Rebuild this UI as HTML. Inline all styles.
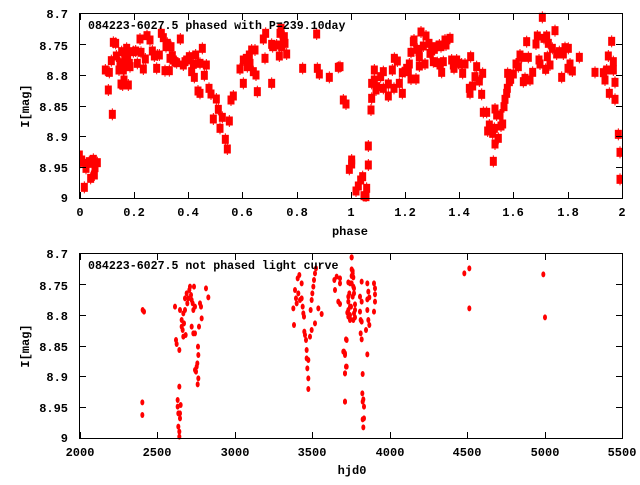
<!DOCTYPE html>
<html><head><meta charset="utf-8"><style>
html,body{margin:0;padding:0;background:#fff;}
svg text{font-family:"Liberation Mono",monospace;font-weight:bold;font-size:12px;fill:#000;}
svg text.t{font-size:11.6px;}
</style></head><body>
<svg id="s" width="640" height="480" xmlns="http://www.w3.org/2000/svg">
<rect width="640" height="480" fill="#fff"/>
<g id="g1"></g>
<text class="t" x="88" y="29">084223-6027.5 phased with P=239.10day</text>
<text x="68" y="18" text-anchor="end">8.7</text>
<text x="68" y="50" text-anchor="end">8.75</text>
<text x="68" y="80" text-anchor="end">8.8</text>
<text x="68" y="111" text-anchor="end">8.85</text>
<text x="68" y="141" text-anchor="end">8.9</text>
<text x="68" y="172" text-anchor="end">8.95</text>
<text x="68" y="202" text-anchor="end">9</text>
<text x="80" y="216" text-anchor="middle">0</text>
<text x="134" y="216" text-anchor="middle">0.2</text>
<text x="188" y="216" text-anchor="middle">0.4</text>
<text x="242" y="216" text-anchor="middle">0.6</text>
<text x="297" y="216" text-anchor="middle">0.8</text>
<text x="351" y="216" text-anchor="middle">1</text>
<text x="405" y="216" text-anchor="middle">1.2</text>
<text x="459" y="216" text-anchor="middle">1.4</text>
<text x="513" y="216" text-anchor="middle">1.6</text>
<text x="568" y="216" text-anchor="middle">1.8</text>
<text x="622" y="216" text-anchor="middle">2</text>
<text x="350" y="235" text-anchor="middle">phase</text>
<text transform="translate(29,106) rotate(-90)" text-anchor="middle">I[mag]</text>
<text class="t" x="88" y="269">084223-6027.5 not phased light curve</text>
<text x="68" y="258" text-anchor="end">8.7</text>
<text x="68" y="290" text-anchor="end">8.75</text>
<text x="68" y="320" text-anchor="end">8.8</text>
<text x="68" y="351" text-anchor="end">8.85</text>
<text x="68" y="381" text-anchor="end">8.9</text>
<text x="68" y="412" text-anchor="end">8.95</text>
<text x="68" y="442" text-anchor="end">9</text>
<text x="80" y="456" text-anchor="middle">2000</text>
<text x="157" y="456" text-anchor="middle">2500</text>
<text x="235" y="456" text-anchor="middle">3000</text>
<text x="312" y="456" text-anchor="middle">3500</text>
<text x="390" y="456" text-anchor="middle">4000</text>
<text x="467" y="456" text-anchor="middle">4500</text>
<text x="545" y="456" text-anchor="middle">5000</text>
<text x="622" y="456" text-anchor="middle">5500</text>
<text x="352" y="474" text-anchor="middle">hjd0</text>
<text transform="translate(29,346) rotate(-90)" text-anchor="middle">I[mag]</text>
<g id="ax" stroke="#000" fill="none" stroke-width="1"></g>
</svg>
<script>
var NS="http://www.w3.org/2000/svg";
var g=document.getElementById("g1"),ax=document.getElementById("ax");
function el(p,n,a){var e=document.createElementNS(NS,n);for(var k in a)e.setAttribute(k,a[k]);p.appendChild(e);return e;}
function frame(t,b,xt,yt){
 el(ax,"rect",{x:79.5,y:t+0.5,width:543,height:b-t});
 yt.forEach(function(y){el(ax,"path",{d:"M80 "+(y+.5)+"h6M622 "+(y+.5)+"h-6"});});
 xt.forEach(function(x){el(ax,"path",{d:"M"+(x+.5)+" "+b+"v-6M"+(x+.5)+" "+(t+1)+"v6"});});
}
var yt1=[13,44,75,106,136,167,198],yt2=[253,284,315,346,376,407,438];
frame(13,198,[80,134,188,242,297,351,405,459,513,568,622],yt1);
frame(253,438,[80,157,235,312,390,467,545,622],yt2);
var clip=el(document.getElementById("s"),"clipPath",{id:"c1"});el(clip,"rect",{x:79,y:8,width:544,height:194});
var gt=el(g,"g",{"clip-path":"url(#c1)"});
var A=[238,465,240,487,245,480,253,562,258,505,265,490,268,485,272,535,280,478,283,525,285,503,292,488,316,210,325,270,328,217,334,182,337,343,340,127,347,130,349,168,357,210,360,188,363,252,365,155,368,255,370,210,372,240,375,180,378,185,380,145,383,170,385,255,388,190,390,200,400,155,407,153,412,190,420,117,423,157,430,207,436,177,441,107,450,120,457,153,463,168,470,205,472,165,478,165,484,100,490,113,495,212,498,140,502,130,508,212,510,175,513,140,517,167,520,180,525,185,530,188,541,117,550,195,555,185,560,180,568,170,575,215,580,193,583,232,587,165,594,273,600,280,600,190,607,145,613,226,619,195,627,265,633,282,640,357,649,297,655,328,660,385,667,352,676,418,682,447,688,363,693,300,700,288,720,207,730,250,730,180,740,175,742,200,748,165,750,190,755,150,760,215,765,150,768,225,772,275,790,117,795,175,797,100,815,250,815,133,818,140,830,135,838,168,840,100,843,85,845,140,850,115,853,110,855,130,860,162,908,205,950,102,952,205,958,222,988,232,1015,202];
var B=[0,200,10,300,18,312,28,508,35,480,35,492,48,573,55,558,62,540,68,530,72,587,78,590,80,565,85,495,85,438,93,330,95,295,95,250,103,240,103,210,108,270,110,260,122,230,130,215,130,265,145,288,145,252,157,210,162,265,163,175,172,183,178,250,187,218,187,280,195,215,200,205,205,210,208,192,213,237,213,157,220,125,222,120,228,237,232,148,237,155,238,170,238,198,243,96,250,138,255,192,258,108,267,130,270,160,275,153,280,185,283,148,288,140,292,188,298,135,300,195,303,140,305,217,310,185,315,120,318,135,330,115,335,180,340,195,342,205,350,180,355,190,365,192,368,220,375,192,388,265,390,280,392,170,398,258,405,230,410,200,418,243,425,283,428,220,430,337,440,337,443,393,448,375,455,393,458,400,463,385,465,432,460,484,465,327,470,345,475,415,480,345,483,378,488,372,492,320,495,298,500,280,502,265,503,220,508,245,512,238,520,222,528,192,535,200,540,165,545,172,550,245,555,235,560,125,565,172,570,240,578,217,588,132,592,108,597,180,600,192,607,52,612,115,617,208,620,108,622,170,625,130,630,195,637,145,645,92,650,162,658,155,665,232,670,162,675,143,684,205,685,145,690,192,697,213,718,172,765,217,790,218,795,240,800,210,805,168,808,280,815,124,820,185,820,210,825,298,825,247,835,403,840,457,840,538];
function sq(x,y){el(gt,"rect",{x:x-3.5,y:y-4.5,width:7,height:9,fill:"#f00"});el(gt,"rect",{x:x-0.5,y:y-6,width:1,height:12,fill:"#f00"});}
for(var i=0;i<A.length;i+=2)sq(A[i]/3,A[i+1]/3);
for(var i=0;i<B.length;i+=2)sq(340+B[i]/3,B[i+1]/3);
var C=[428,210,432,215,427,487,427,525,525,200,528,300,530,312,538,330,533,480,533,500,535,520,538,440,535,560,538,575,538,590,540,520,540,535,542,495,540,210,545,240,545,260,548,270,550,220,552,250,550,290,555,175,555,210,557,285,560,160,562,190,565,175,568,150,570,140,573,165,575,180,578,190,580,210,582,140,585,200,575,260,580,280,585,280,585,390,588,395,590,380,592,370,594,320,595,345,597,260,600,190,603,200,605,235,618,145,625,172,595,415,593,433,880,205,882,255,885,150,888,175,890,190,893,115,895,160,898,105,900,180,905,175,905,130,908,200,910,220,912,230,913,275,915,285,918,300,920,330,920,355,922,385,925,415,925,447,925,360,930,290,932,210,935,180,937,160,940,140,942,120,945,100,948,85,935,270,945,250,955,205,965,222,1003,120,1005,150,1010,110,1015,185,1020,130,1030,335,1035,340,1040,300,1035,400,1035,485,1040,380,1045,230,1050,200,1055,52,1050,130,1058,100,1060,240,1062,220];
var D=[0,115,0,192,25,127,25,170,25,185,28,160,30,235,30,225,33,200,35,52,35,88,35,108,35,130,38,93,38,170,40,112,40,140,42,160,42,145,45,210,45,232,45,193,22,218,25,210,30,240,18,298,12,335,15,345,18,380,15,400,15,485,60,170,60,215,62,240,62,280,65,125,65,185,65,245,65,298,68,402,67,460,68,485,70,478,72,500,68,538,72,535,70,562,82,130,82,178,82,210,85,155,85,240,88,172,88,255,78,270,82,343,102,130,105,145,105,163,105,185,102,215,373,100,388,85,388,205,610,103,615,232];
function dot(x,y){el(g,"ellipse",{cx:x,cy:y,rx:2,ry:3,fill:"#f00"});}
for(var i=0;i<C.length;i+=2)dot(C[i]/3,240+C[i+1]/3);
for(var i=0;i<D.length;i+=2)dot(340+D[i]/3,240+D[i+1]/3);
</script>
</body></html>
